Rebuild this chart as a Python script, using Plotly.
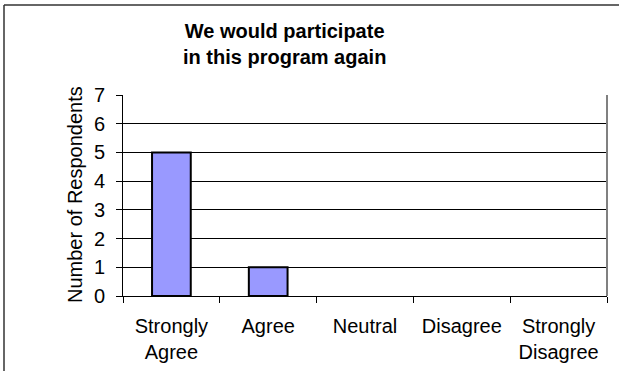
import plotly.graph_objects as go

categories = ["Strongly<br>Agree", "Agree", "Neutral", "Disagree", "Strongly<br>Disagree"]
counts = [5, 1, 0, 0, 0]
y_ticks = [0, 1, 2, 3, 4, 5, 6, 7]

W, H = 619, 371
L, R, T, B = 123, 12, 95, 75
pw, ph = W - L - R, H - T - B

def px_x(x):
    return (x - L) / pw

def px_y(y):
    return 1 - (y - T) / ph

font = "Liberation Sans, Arial, sans-serif"

fig = go.Figure(go.Bar(
    x=categories, y=counts, width=0.4,
    marker=dict(color="#9999FF",
                line=dict(color="black", width=[2 if c > 0 else 0 for c in counts])),
))

fig.update_layout(
    width=W, height=H, margin=dict(l=L, r=R, t=T, b=B, autoexpand=False),
    paper_bgcolor="white", plot_bgcolor="white", showlegend=False,
    font=dict(family=font, size=20, color="black"),
    xaxis=dict(type="category", tickson="boundaries", ticks="outside", ticklen=6,
               tickcolor="black", showline=True, linecolor="black", linewidth=1,
               showgrid=False, tickfont=dict(size=20), range=[-0.5, 4.5],
               ticklabelstandoff=12, automargin=False),
    yaxis=dict(range=[0, 7], tickvals=y_ticks, ticks="outside", ticklen=6,
               tickcolor="black", showline=True, linecolor="black", linewidth=1,
               showgrid=True, gridcolor="black", gridwidth=1, zeroline=False,
               tickfont=dict(size=20), ticklabelstandoff=7, automargin=False),
    shapes=[
        dict(type="line", xref="paper", yref="paper", x0=1, x1=1, y0=0, y1=1,
             line=dict(color="#808080", width=2)),
        dict(type="line", xref="paper", yref="paper", x0=px_x(4), x1=px_x(640), y0=px_y(5), y1=px_y(5),
             line=dict(color="#333333", width=1.5)),
        dict(type="line", xref="paper", yref="paper", x0=px_x(4), x1=px_x(4), y0=px_y(5), y1=px_y(400),
             line=dict(color="#333333", width=1.5)),
    ],
    annotations=[
        dict(text="<b>We would participate<br>in this program again</b>", xref="paper", yref="paper",
             x=px_x(284), y=px_y(44), xanchor="center", yanchor="middle", showarrow=False,
             font=dict(size=20, family=font)),
        dict(text="Number of Respondents", xref="paper", yref="paper", textangle=-90,
             x=px_x(75), y=px_y(195), xanchor="center", yanchor="middle", showarrow=False,
             font=dict(size=20, family=font)),
    ],
)

fig.write_html("out.html")
